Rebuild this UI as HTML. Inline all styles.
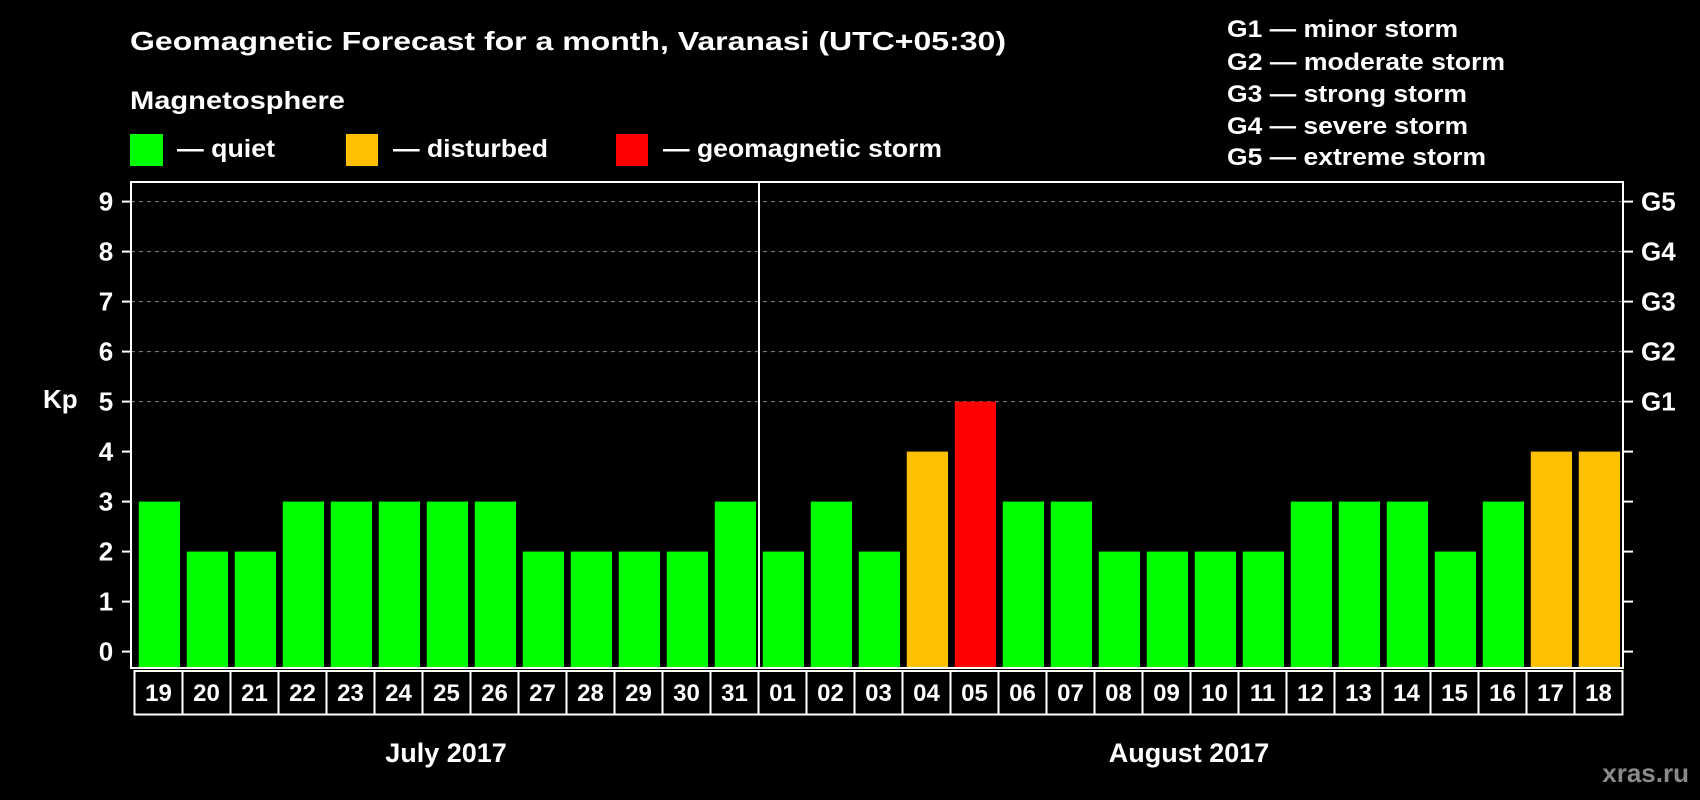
<!DOCTYPE html>
<html><head><meta charset="utf-8"><style>
html,body{margin:0;padding:0;background:#000;}
svg{display:block;font-family:"Liberation Sans",Arial,sans-serif;font-weight:bold;}
</style></head><body>
<svg id="chart" width="1700" height="800" viewBox="0 0 1700 800">
<text x="130" y="50" font-size="26" fill="#fff" textLength="876" lengthAdjust="spacingAndGlyphs">Geomagnetic Forecast for a month, Varanasi (UTC+05:30)</text>
<text x="130" y="109" font-size="25" fill="#fff" textLength="215" lengthAdjust="spacingAndGlyphs">Magnetosphere</text>
<rect x="130" y="134" width="33" height="32" fill="#00ff00"/>
<text x="177" y="157" font-size="25" fill="#fff" textLength="98" lengthAdjust="spacingAndGlyphs">— quiet</text>
<rect x="346" y="134" width="32" height="32" fill="#ffc000"/>
<text x="393" y="157" font-size="25" fill="#fff" textLength="155" lengthAdjust="spacingAndGlyphs">— disturbed</text>
<rect x="616" y="134" width="32" height="32" fill="#ff0000"/>
<text x="663" y="157" font-size="25" fill="#fff" textLength="279" lengthAdjust="spacingAndGlyphs">— geomagnetic storm</text>
<g font-size="24" fill="#fff">
<text x="1227" y="37" textLength="231" lengthAdjust="spacingAndGlyphs">G1 — minor storm</text>
<text x="1227" y="70" textLength="278" lengthAdjust="spacingAndGlyphs">G2 — moderate storm</text>
<text x="1227" y="102" textLength="240" lengthAdjust="spacingAndGlyphs">G3 — strong storm</text>
<text x="1227" y="134" textLength="241" lengthAdjust="spacingAndGlyphs">G4 — severe storm</text>
<text x="1227" y="165" textLength="259" lengthAdjust="spacingAndGlyphs">G5 — extreme storm</text>
</g>
<g id="grid"></g>
<g id="bars"></g>
<rect x="131" y="182" width="1492" height="486" fill="none" stroke="#fff" stroke-width="2"/>
<line x1="759" y1="182" x2="759" y2="668" stroke="#fff" stroke-width="2"/>
<g id="yaxis"></g>
<g id="days"></g>
<text x="43" y="408" font-size="26" fill="#fff">Kp</text>
<text x="446" y="762" font-size="27" fill="#fff" text-anchor="middle">July 2017</text>
<text x="1189" y="762" font-size="27" fill="#fff" text-anchor="middle">August 2017</text>
<text x="1689" y="782" font-size="26" fill="#8a8a8a" text-anchor="end">xras.ru</text>
</svg>
<script>
const days = ["19","20","21","22","23","24","25","26","27","28","29","30","31","01","02","03","04","05","06","07","08","09","10","11","12","13","14","15","16","17","18"];
const kp = [3,2,2,3,3,3,3,3,2,2,2,2,3,2,3,2,4,5,3,3,2,2,2,2,3,3,3,2,3,4,4];
const yTicks = [0,1,2,3,4,5,6,7,8,9];
const gLabels = ["G1","G2","G3","G4","G5"];
const NS = "http://www.w3.org/2000/svg";
const y = v => 651.6 - v * 50;
const x = i => 138.8 + i * 48;
const bw = 41.2;
const color = v => v >= 5 ? "#ff0000" : (v >= 4 ? "#ffc000" : "#00ff00");
function mk(tag, attrs, parent){const e=document.createElementNS(NS,tag);for(const k in attrs)e.setAttribute(k,attrs[k]);parent.appendChild(e);return e;}
const grid=document.getElementById("grid"), bars=document.getElementById("bars"), ya=document.getElementById("yaxis"), dg=document.getElementById("days");
yTicks.forEach(t=>{
  if(t>=5){const g=mk("line",{x1:131,x2:1623,y1:y(t),y2:y(t),stroke:"#888","stroke-width":1,"stroke-dasharray":"4,4"},grid);
  
  }
  const l=mk("line",{x1:122,x2:131,y1:y(t),y2:y(t),stroke:"#fff","stroke-width":2},ya);
  
  
  const r=mk("line",{x1:1623,x2:1633,y1:y(t),y2:y(t),stroke:"#fff","stroke-width":2},ya);
  
  
  const tx=mk("text",{x:106,y:y(t)+9,"font-size":26,fill:"#fff","text-anchor":"middle"},ya);
  tx.textContent=t;
  
  
});
gLabels.forEach((g,i)=>{
  const tx=mk("text",{x:1641,y:y(5+i)+9,"font-size":26,fill:"#fff"},ya);
  tx.textContent=g;
  
  
});
kp.forEach((v,i)=>{
  const b=mk("rect",{x:x(i),y:y(v),width:bw,height:668-y(v),fill:color(v)},bars);
  
  
});
days.forEach((d,i)=>{
  const c=mk("rect",{x:134.5+i*48,y:671,width:48,height:43.5,fill:"none",stroke:"#fff","stroke-width":2},dg);
  
  
  const t=mk("text",{x:134.5+i*48+24,y:701,"font-size":24,fill:"#fff","text-anchor":"middle"},dg);
  t.textContent=d;
  
  
});
</script>
</body></html>
